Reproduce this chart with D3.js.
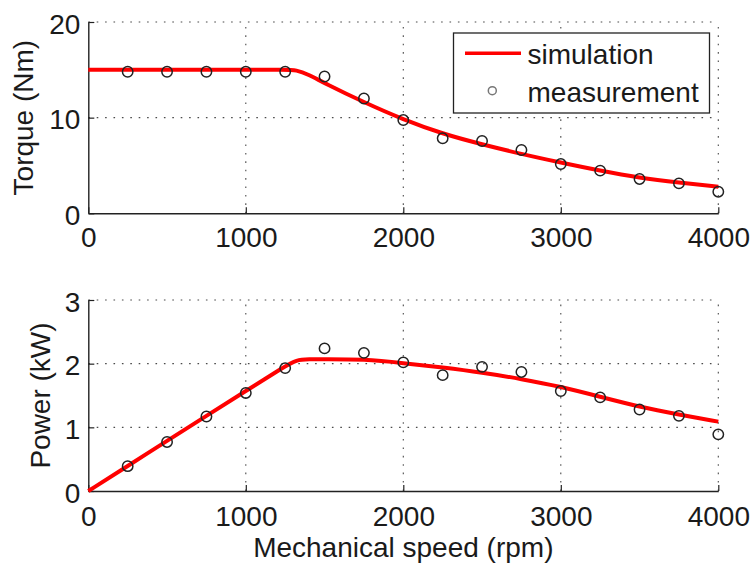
<!DOCTYPE html>
<html>
<head>
<meta charset="utf-8">
<script src="https://cdn.jsdelivr.net/npm/d3@7"></script>
<style>
  html, body { margin: 0; padding: 0; background: #fff; }
  svg { display: block; font-family: "Liberation Sans", Arial, Helvetica, sans-serif; }
</style>
</head>
<body>
<svg id="chart" width="754" height="567"></svg>
<script>
// Mechanical speed samples (rpm)
const simSpeed = [0, 250, 500, 750, 1000, 1250, 1320, 1400, 1500, 1750, 2000, 2250, 2500, 2750, 3000, 3250, 3500, 3750, 4000];
const simTorque = [15, 15, 15, 15, 15, 15, 15, 14.5, 13.6, 11.6, 9.8, 8.3, 7.2, 6.2, 5.3, 4.45, 3.7, 3.2, 2.78];
const simPower = [0, 0.39, 0.79, 1.18, 1.57, 1.96, 2.06, 2.07, 2.07, 2.07, 2.01, 1.94, 1.86, 1.76, 1.64, 1.48, 1.32, 1.20, 1.09];

const measSpeed = [250, 500, 750, 1000, 1250, 1500, 1750, 2000, 2250, 2500, 2750, 3000, 3250, 3500, 3750, 4000];
const measTorque = [14.8, 14.8, 14.8, 14.8, 14.8, 14.3, 12.0, 9.75, 7.84, 7.56, 6.62, 5.15, 4.46, 3.59, 3.13, 2.26];
const measPower = [0.39, 0.77, 1.17, 1.54, 1.93, 2.24, 2.17, 2.02, 1.82, 1.95, 1.87, 1.57, 1.47, 1.28, 1.18, 0.89];

const xTicks = [0, 1000, 2000, 3000, 4000];
const torqueTicks = [0, 10, 20];
const powerTicks = [0, 1, 2, 3];
const legendLabels = ["simulation", "measurement"];

const svg = d3.select("#chart");
const FONT = 28;
const TEXT = "#1a1a1a";

const x = d3.scaleLinear().domain([0, 4000]).range([88.3, 718.3]);

const panels = [
  { yDomain: [0, 20], yRange: [213.3, 22], ticks: torqueTicks, sim: simTorque, meas: measTorque,
    label: "Torque (Nm)", labelX: 33, xPad: 13.5, legend: true },
  { yDomain: [0, 3], yRange: [491, 300], ticks: powerTicks, sim: simPower, meas: measPower,
    label: "Power (kW)", labelX: 50, xPad: 15.5, legend: false }
];

panels.forEach(p => {
  const y = d3.scaleLinear().domain(p.yDomain).range(p.yRange);
  const g = svg.append("g");

  // dotted grid (MATLAB style, no box)
  const grid = g.append("g")
    .attr("stroke", "#4a4a4a").attr("stroke-width", 1.1)
    .attr("stroke-dasharray", "1.6,6.8").attr("fill", "none");
  grid.selectAll("line.v").data(xTicks.filter(d => d > 0)).join("line")
    .attr("x1", d => x(d)).attr("x2", d => x(d))
    .attr("y1", y.range()[0]).attr("y2", y.range()[1]);
  grid.selectAll("line.h").data(p.ticks.filter(d => d > 0)).join("line")
    .attr("x1", x.range()[0]).attr("x2", x.range()[1])
    .attr("y1", d => y(d)).attr("y2", d => y(d));

  // axes with inward ticks
  const xAxis = g.append("g")
    .attr("transform", `translate(0,${y.range()[0]})`)
    .call(d3.axisBottom(x).tickValues(xTicks).tickFormat(d3.format("d"))
      .tickSizeInner(-6).tickSizeOuter(0).tickPadding(p.xPad));
  const yAxis = g.append("g")
    .attr("transform", `translate(${x.range()[0]},0)`)
    .call(d3.axisLeft(y).tickValues(p.ticks).tickFormat(d3.format("d"))
      .tickSizeInner(-6).tickSizeOuter(0).tickPadding(8));
  [xAxis, yAxis].forEach(a => {
    a.attr("font-family", null).attr("font-size", null);
    a.select(".domain").attr("stroke", "#222").attr("stroke-width", 1.4);
    a.selectAll(".tick line").attr("stroke", "#222").attr("stroke-width", 1.2);
    a.selectAll(".tick text").attr("fill", TEXT).style("font-size", FONT + "px");
  });
  yAxis.selectAll(".tick text").attr("dy", "0.4em");

  // axis title
  g.append("text")
    .attr("transform", `translate(${p.labelX},${(y.range()[0] + y.range()[1]) / 2}) rotate(-90)`)
    .attr("text-anchor", "middle").attr("fill", TEXT)
    .style("font-size", FONT + "px").text(p.label);

  // simulation curve (smoothed through the samples)
  const simData = simSpeed.map((s, i) => [s, p.sim[i]]);
  g.append("path").datum(simData)
    .attr("fill", "none").attr("stroke", "#ff0000").attr("stroke-width", 4)
    .attr("stroke-linejoin", "round")
    .attr("d", d3.line().x(d => x(d[0])).y(d => y(d[1])).curve(d3.curveBasis));

  // measurement points
  g.selectAll("circle.meas").data(measSpeed.map((s, i) => [s, p.meas[i]])).join("circle")
    .attr("class", "meas")
    .attr("cx", d => x(d[0])).attr("cy", d => y(d[1])).attr("r", 5.2)
    .attr("fill", "none").attr("stroke", "#222").attr("stroke-width", 1.5);

  if (p.legend) {
    const lg = svg.append("g");
    lg.append("rect").attr("x", 453.5).attr("y", 33).attr("width", 256).attr("height", 80)
      .attr("fill", "#fff").attr("stroke", "#222").attr("stroke-width", 1.3);
    lg.append("line").attr("x1", 465).attr("x2", 521).attr("y1", 53.3).attr("y2", 53.3)
      .attr("stroke", "#ff0000").attr("stroke-width", 3.5);
    lg.append("circle").attr("cx", 492.3).attr("cy", 90.7).attr("r", 4)
      .attr("fill", "none").attr("stroke", "#777").attr("stroke-width", 1.5);
    lg.selectAll("text").data(legendLabels).join("text")
      .attr("x", 527.5).attr("y", (d, i) => i === 0 ? 64.3 : 101.7)
      .attr("fill", TEXT).style("font-size", FONT + "px").text(d => d);
  }
});

// shared x-axis title
svg.append("text")
  .attr("x", (x.range()[0] + x.range()[1]) / 2).attr("y", 556.5)
  .attr("text-anchor", "middle").attr("fill", TEXT)
  .style("font-size", FONT + "px").text("Mechanical speed (rpm)");
</script>
</body>
</html>
